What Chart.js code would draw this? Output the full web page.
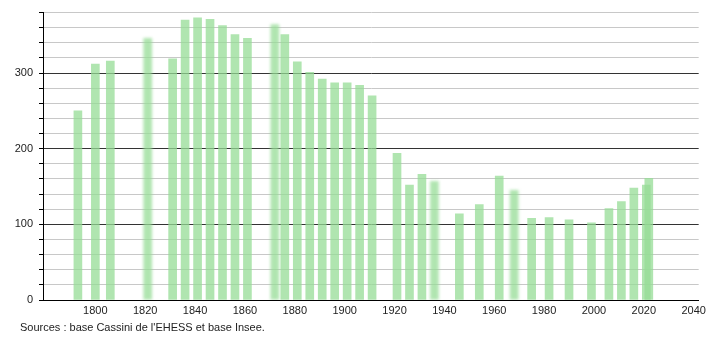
<!DOCTYPE html>
<html>
<head>
<meta charset="utf-8">
<script src="https://cdn.jsdelivr.net/npm/chart.js@4"></script>
<style>
  body { margin: 0; background: #fff; }
  #wrap { position: relative; width: 710px; height: 340px; }
  #source {
    position: absolute; left: 20px; top: 321px;
    font: 11px "Liberation Sans", Arial, sans-serif; color: #222;
  }
</style>
</head>
<body>
<div id="wrap">
  <canvas id="popChart" width="710" height="340"></canvas>
  <div id="source">Sources : base Cassini de l'EHESS et base Insee.</div>
</div>
<script>
const years = [1793, 1800, 1806, 1821, 1831, 1836, 1841, 1846, 1851, 1856, 1861,
    1872, 1876, 1881, 1886, 1891, 1896, 1901, 1906, 1911, 1921, 1926, 1931, 1936,
    1946, 1954, 1962, 1968, 1975, 1982, 1990, 1999, 2006, 2011, 2016, 2021, 2022];
const population = [250, 312, 316, 346, 319, 370, 373, 371, 363, 351, 346,
    364, 351, 315, 301, 292, 287, 287, 284, 270, 194, 152, 166, 157,
    114, 126, 164, 145, 108, 109, 106, 102, 121, 130, 148, 152, 161];
const blurredYears = [1821, 1872, 1936, 1968];
const xTicks = [1800, 1820, 1840, 1860, 1880, 1900, 1920, 1940, 1960, 1980, 2000, 2020, 2040];

const sharp = [];
const soft = [];
years.forEach((y, i) => {
    const pt = { x: y, y: population[i] };
    if (blurredYears.includes(y)) soft.push(pt); else sharp.push(pt);
});

const barColor = 'rgba(150, 220, 150, 0.75)';

// blur the "soft" dataset
const blurPlugin = {
    id: 'blurSoft',
    beforeDatasetDraw(chart, args) {
        if (args.index === 1) {
            chart.ctx.save();
            chart.ctx.filter = 'blur(1.5px)';
        }
    },
    afterDatasetDraw(chart, args) {
        if (args.index === 1) chart.ctx.restore();
    }
};

const ctx = document.getElementById('popChart').getContext('2d');
new Chart(ctx, {
    type: 'bar',
    data: {
        datasets: [
            { data: sharp, backgroundColor: barColor, barThickness: 8, grouped: false },
            { data: soft, backgroundColor: barColor, barThickness: 8, grouped: false }
        ]
    },
    options: {
        responsive: false,
        animation: false,
        layout: { padding: { top: 10, right: 10, left: 0, bottom: 18 } },
        plugins: { legend: { display: false }, tooltip: { enabled: false } },
        scales: {
            x: {
                type: 'linear',
                offset: false,
                min: 1779,
                max: 2042,
                afterBuildTicks: (scale) => { scale.ticks = xTicks.map(v => ({ value: v })); },
                afterFit: (scale) => { scale.height = 22; },
                grid: { display: false, drawTicks: false, offset: false },
                border: { display: true, color: '#000', width: 1 },
                ticks: {
                    padding: 4,
                    color: '#222',
                    font: { family: 'Liberation Sans', size: 11 },
                    callback: (v) => String(v)
                }
            },
            y: {
                min: 0,
                max: 380,
                afterFit: (scale) => { scale.width = 43; },
                border: { display: true, color: '#000', width: 1 },
                grid: {
                    color: (c) => (c.tick && c.tick.value % 100 === 0) ? '#333' : '#c8c8c8',
                    tickColor: '#000',
                    tickLength: 4
                },
                ticks: {
                    stepSize: 20,
                    maxTicksLimit: 40,
                    autoSkip: false,
                    padding: 6,
                    color: '#222',
                    font: { family: 'Liberation Sans', size: 11 },
                    callback: (v) => v % 100 === 0 ? String(v) : ''
                }
            }
        }
    },
    plugins: [blurPlugin]
});
</script>
</body>
</html>
